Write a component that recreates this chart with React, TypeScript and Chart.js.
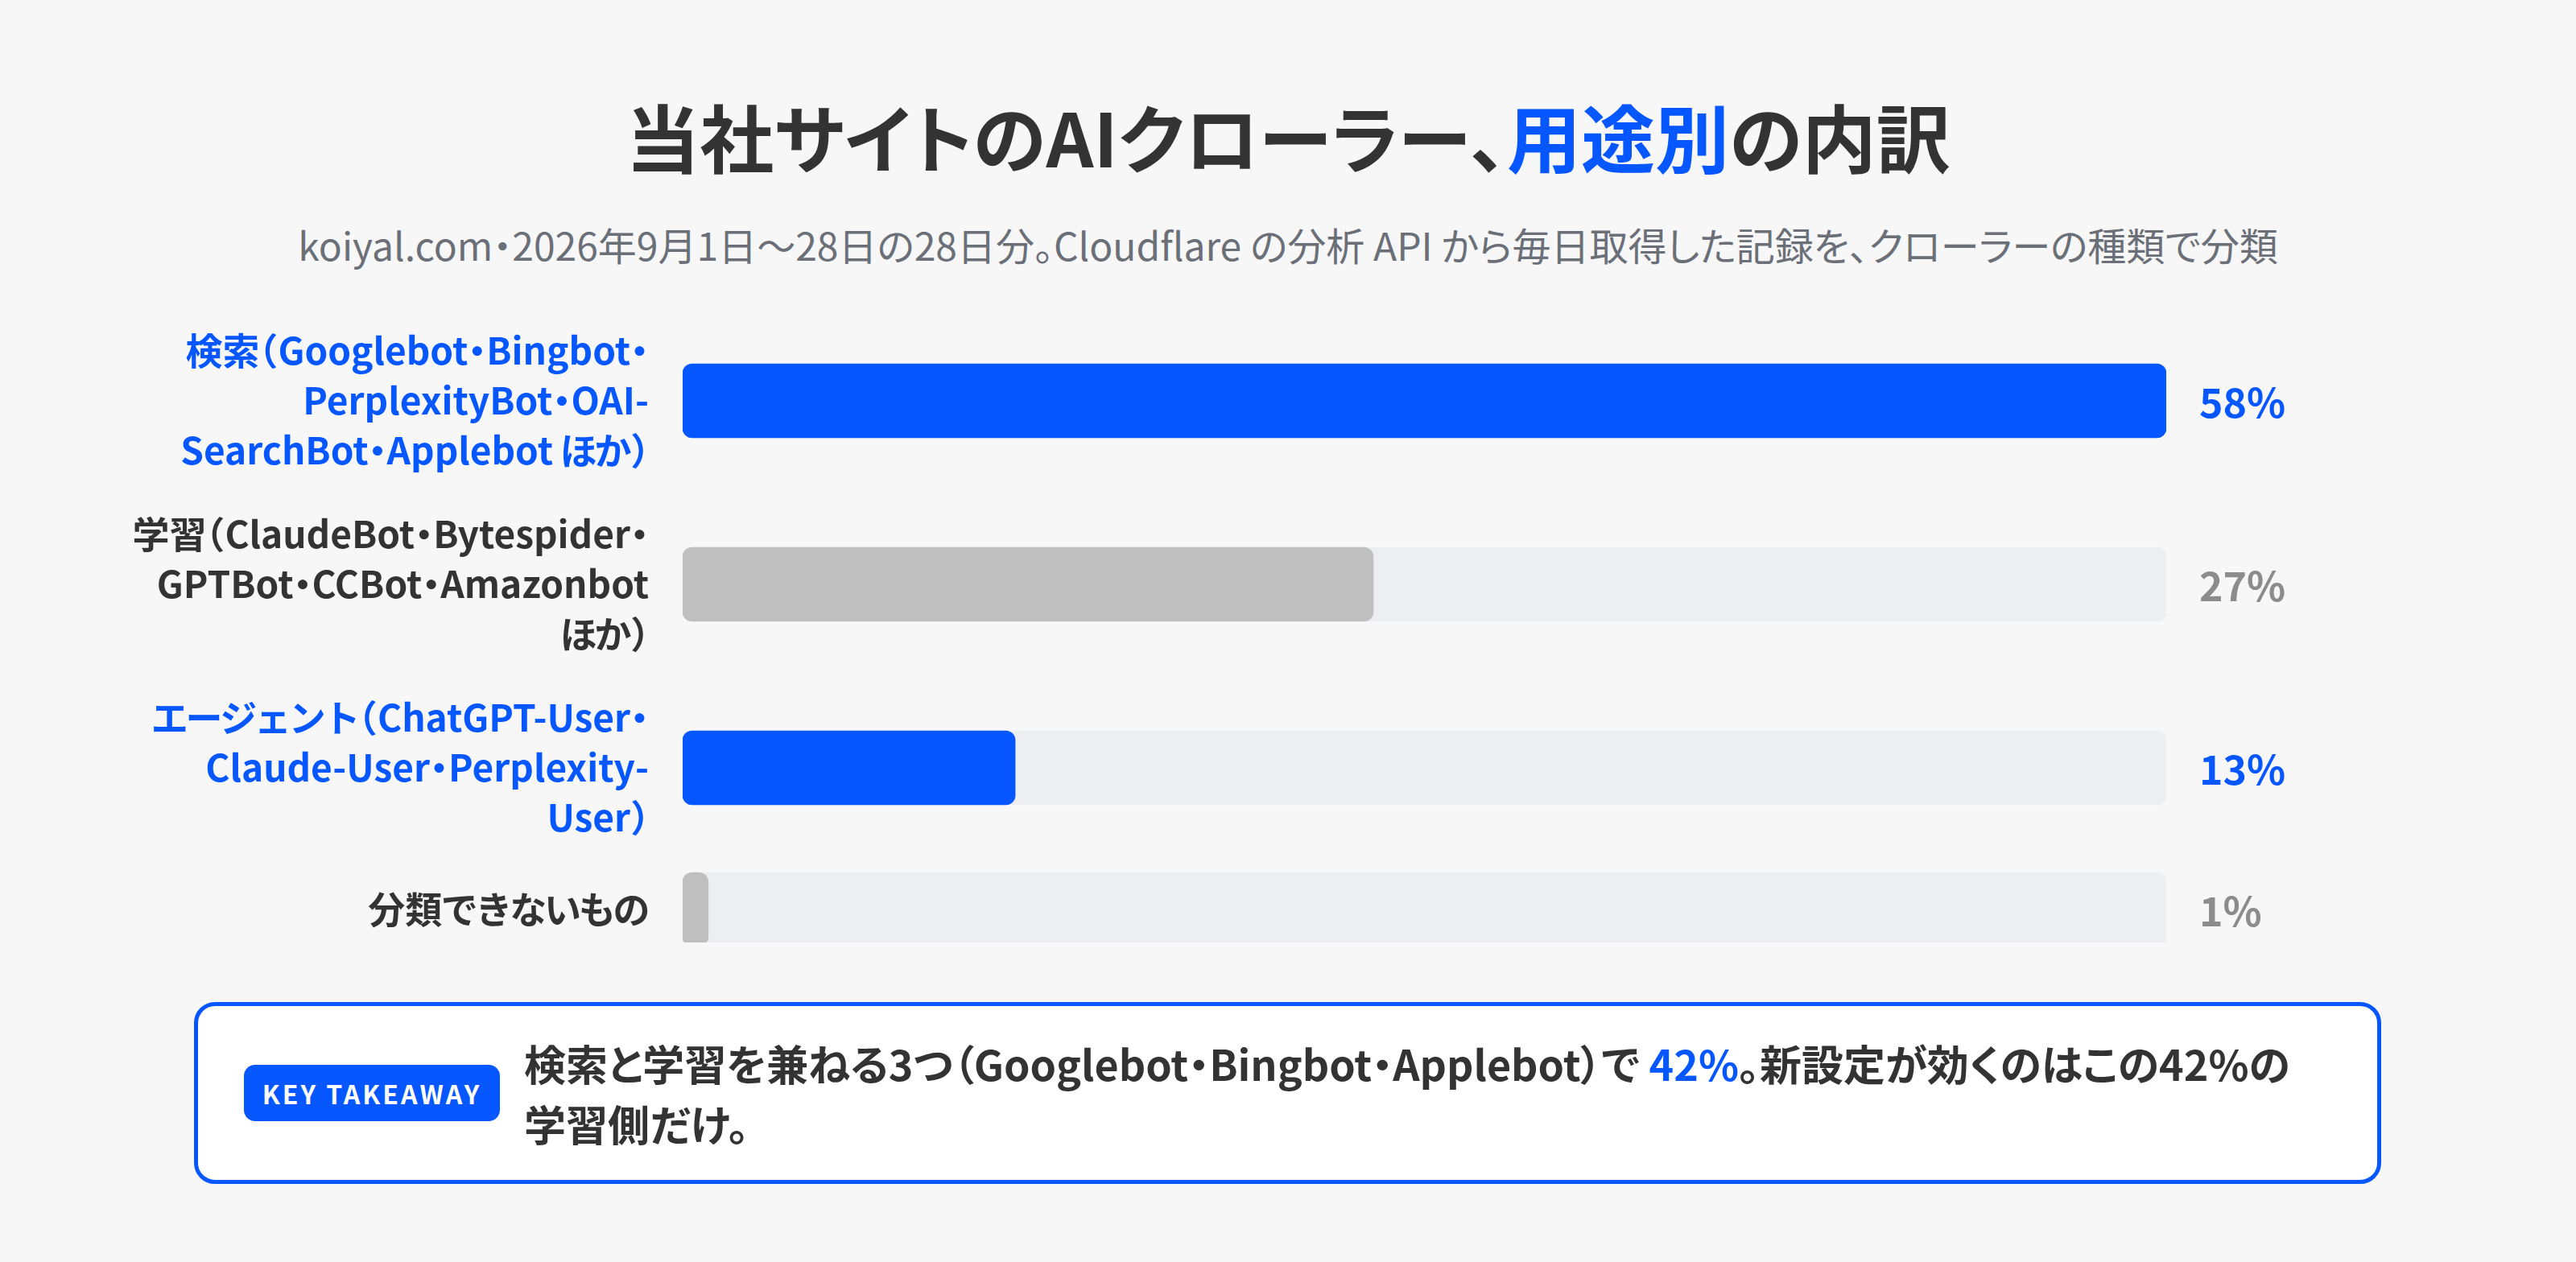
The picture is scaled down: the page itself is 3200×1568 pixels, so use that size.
import React, { useEffect, useRef } from "react";
import { Chart, registerables } from "chart.js";

Chart.register(...registerables);

// ---- data ----
const categoryLabels: string[][] = [
  ["検索（Googlebot・Bingbot・", "PerplexityBot・OAI-", "SearchBot・Applebot ほか）"],
  ["学習（ClaudeBot・Bytespider・", "GPTBot・CCBot・Amazonbot", "ほか）"],
  ["エージェント（ChatGPT-User・", "Claude-User・Perplexity-", "User）"],
  ["分類できないもの"],
];
const shareValues = [58, 27, 13, 1];
const valueSuffix = "%";

// ---- style ----
const accentRows = [true, false, true, false];
const BLUE = "#0657FF";
const DARK = "#333333";
const GREY_BAR = "#BFBFBF";
const GREY_TEXT = "#8C8C8C";
const TRACK = "#EDEEF2";
const BG = "#F7F7F7";
const FONT = '"Noto Sans CJK JP", "Noto Sans", sans-serif';

const LABEL_SIZE = 46;
const LINE_H = 62;
const ROW_GAP = 42;
const MIN_ROW = 82;
const BAR_H = 92;
const PAD = 110;
const ROWS_TOP = 405;
const AXIS_W = 848;
const AREA_RIGHT = 2691;
const W = 3200;

// proportional (palt-like) placement for full-width punctuation / kana on canvas
const PALT_RULES: Record<string, "center" | "right" | "left"> = {
  "・": "center",
  "（": "right",
  "）": "left",
  "、": "left",
  "。": "left",
};
const KANA_TIGHTEN = 0.07;

function isKana(ch: string) {
  const c = ch.codePointAt(0) || 0;
  return c >= 0x3040 && c <= 0x30ff;
}

function drawPaltRight(ctx: CanvasRenderingContext2D, text: string, xRight: number, y: number, size: number) {
  const parts: { t: string; dx: number; adv: number }[] = [];
  let run = "";
  const flush = () => {
    if (run) {
      parts.push({ t: run, dx: 0, adv: ctx.measureText(run).width });
      run = "";
    }
  };
  for (const ch of Array.from(text)) {
    const rule = PALT_RULES[ch];
    if (rule) {
      flush();
      const m = ctx.measureText(ch);
      const inkL = -m.actualBoundingBoxLeft;
      const inkR = m.actualBoundingBoxRight;
      const adv = size * 0.5;
      let dx = 0;
      if (rule === "center") dx = adv / 2 - (inkL + inkR) / 2;
      else if (rule === "right") dx = adv - size * 0.05 - inkR;
      else dx = size * 0.05 - inkL;
      parts.push({ t: ch, dx, adv });
    } else if (isKana(ch)) {
      flush();
      const w = ctx.measureText(ch).width;
      parts.push({ t: ch, dx: (-KANA_TIGHTEN * size) / 2, adv: w - KANA_TIGHTEN * size });
    } else {
      run += ch;
    }
  }
  flush();
  const total = parts.reduce((s, p) => s + p.adv, 0);
  let x = xRight - total;
  parts.forEach((p) => {
    ctx.fillText(p.t, x + p.dx, y);
    x += p.adv;
  });
}

function App() {
  const ref = useRef<HTMLCanvasElement | null>(null);

  const rowHeights = categoryLabels.map((l) => Math.max(l.length * LINE_H, MIN_ROW));
  const centers: number[] = [];
  let acc = 0;
  rowHeights.forEach((h, i) => {
    if (i > 0) acc += ROW_GAP;
    centers.push(acc + h / 2);
    acc += h;
  });
  const totalH = acc;
  const canvasH = totalH + PAD * 2;
  const xMax = Math.max(...shareValues);

  useEffect(() => {
    if (!ref.current) return;
    const textPlugin = {
      id: "rowText",
      afterDatasetsDraw(chart: any) {
        const ctx = chart.ctx as CanvasRenderingContext2D;
        const xs = chart.scales.x;
        const ys = chart.scales.y;
        ctx.save();
        ctx.textAlign = "left";
        ctx.textBaseline = "middle";
        // category labels
        ctx.font = `bold ${LABEL_SIZE}px ${FONT}`;
        categoryLabels.forEach((lines, i) => {
          const cy = ys.getPixelForValue(centers[i]);
          ctx.fillStyle = accentRows[i] ? BLUE : DARK;
          lines.forEach((line, j) => {
            const y = cy + (j - (lines.length - 1) / 2) * LINE_H;
            drawPaltRight(ctx, line, xs.getPixelForValue(0) - 42, y, LABEL_SIZE);
          });
        });
        // value labels
        ctx.font = `bold 50px ${FONT}`;
        shareValues.forEach((v, i) => {
          ctx.fillStyle = accentRows[i] ? BLUE : GREY_TEXT;
          ctx.fillText(`${v}${valueSuffix}`, xs.getPixelForValue(xMax) + 41, ys.getPixelForValue(centers[i]) + 2);
        });
        ctx.restore();
      },
    };
    const chart = new Chart(ref.current, {
      type: "bar",
      data: {
        datasets: [
          {
            data: shareValues.map((v, i) => ({ x: v, y: centers[i] })),
            backgroundColor: shareValues.map((_, i) => (accentRows[i] ? BLUE : GREY_BAR)),
            borderRadius: 12,
            borderSkipped: false,
            barThickness: BAR_H,
            grouped: false,
          },
          {
            data: shareValues.map((_, i) => ({ x: xMax, y: centers[i] })),
            backgroundColor: TRACK,
            borderRadius: 12,
            borderSkipped: false,
            barThickness: BAR_H,
            grouped: false,
          },
        ],
      } as any,
      options: {
        indexAxis: "y",
        animation: false,
        responsive: false,
        devicePixelRatio: 1,
        layout: { autoPadding: false, padding: { left: AXIS_W, right: W - AREA_RIGHT, top: PAD, bottom: PAD } },
        plugins: { legend: { display: false }, tooltip: { enabled: false } },
        scales: {
          x: { type: "linear", min: 0, max: xMax, display: false, offset: false },
          y: {
            type: "linear",
            reverse: true,
            offset: false,
            min: 0,
            max: totalH,
            display: false,
          },
        },
      } as any,
      plugins: [textPlugin],
    });
    return () => chart.destroy();
  }, []);

  return (
    <div style={{ position: "absolute", left: 0, top: 0, width: W, height: 1568, background: BG, fontFamily: FONT, overflow: "hidden" }}>
      <div
        style={{
          position: "absolute", left: 0, top: 110, width: W, textAlign: "center",
          fontSize: 92, fontWeight: 700, lineHeight: "116px", color: DARK,
          fontFeatureSettings: '"palt"',
        }}
      >
        当社サイトのAIクローラー、<span style={{ color: BLUE }}>用途別</span>の内訳
      </div>
      <div
        style={{
          position: "absolute", left: 0, top: 270, width: W, textAlign: "center",
          fontSize: 48, fontWeight: 400, lineHeight: "66px", color: "#6B6F78",
          fontFeatureSettings: '"palt"',
        }}
      >
        koiyal.com・2026年9月1日〜28日の28日分。Cloudflare の分析 API から毎日取得した記録を、クローラーの種類で分類
      </div>
      <canvas
        ref={ref}
        width={W}
        height={canvasH}
        style={{ position: "absolute", left: 0, top: ROWS_TOP - PAD, width: W, height: canvasH }}
      />
      <div
        style={{
          position: "absolute", left: 241, top: 1245, width: 2717, height: 226, boxSizing: "border-box",
          border: `5px solid ${BLUE}`, borderRadius: 26, background: "#FFFFFF",
        }}
      >
        <div
          style={{
            position: "absolute", left: 57, top: 73, width: 318, height: 70, borderRadius: 14, background: BLUE,
            color: "#FFFFFF", fontSize: 32, fontWeight: 700, letterSpacing: 3, display: "flex",
            alignItems: "center", justifyContent: "center",
          }}
        >
          KEY TAKEAWAY
        </div>
        <div
          style={{
            position: "absolute", left: 405, top: 33, width: 2280, fontSize: 52, fontWeight: 700,
            lineHeight: "75px", color: DARK, whiteSpace: "nowrap", fontFeatureSettings: '"palt"',
          }}
        >
          検索と学習を兼ねる3つ（Googlebot・Bingbot・Applebot）で <span style={{ color: BLUE }}>42%</span>。新設定が効くのはこの42%の
          <br />
          学習側だけ。
        </div>
      </div>
    </div>
  );
}

export default App;
